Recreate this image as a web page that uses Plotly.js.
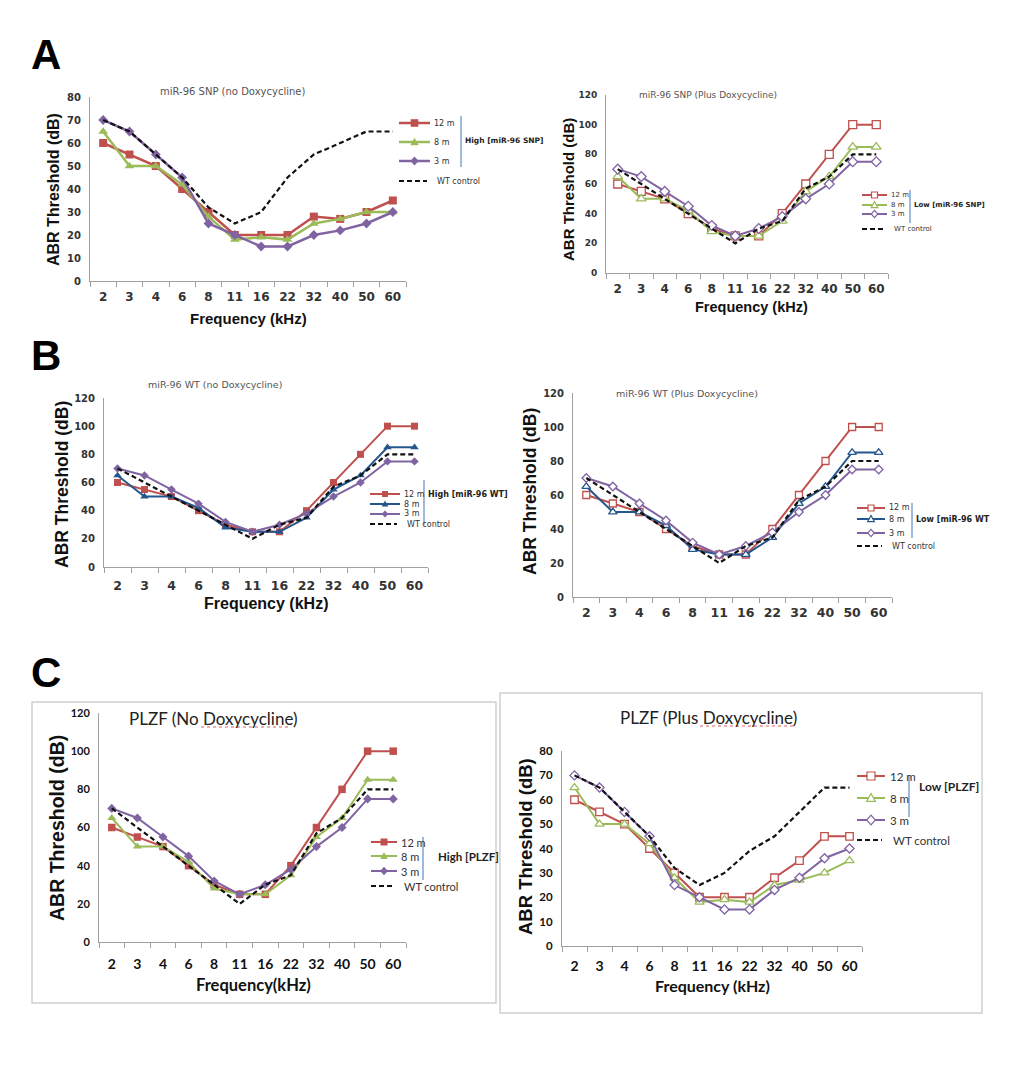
<!DOCTYPE html>
<html><head><meta charset="utf-8">
<script src="https://cdn.plot.ly/plotly-3.0.1.min.js"></script>
<style>html,body{margin:0;padding:0;background:#fff}#chart{width:1024px;height:1080px}</style>
</head><body><div id="chart"></div>
<script>
// ---------- DATA ----------
const freqs = ['2','3','4','6','8','11','16','22','32','40','50','60'];
const seriesNames = ['12 m','8 m','3 m','WT control'];

// A left: miR-96 SNP (no Doxycycline)
const snpNoDox12m = [60,55,50,40,30,20,20,20,28,27,30,35];
const snpNoDox8m  = [65,50,50,42,28,18,19,18,25,27,30,30];
const snpNoDox3m  = [70,65,55,45,25,20,15,15,20,22,25,30];
const snpNoDoxWT  = [70,65,55,45,32,25,30,45,55,60,65,65];

// A right: miR-96 SNP (Plus Doxycycline)
const snpDox12m = [60,55,50,40,30,25,25,40,60,80,100,100];
const snpDox8m  = [65,50,50,42,28,25,25,35,55,65,85,85];
const snpDox3m  = [70,65,55,45,32,25,30,38,50,60,75,75];
const snpDoxWT  = [70,60,50,40,30,20,30,35,57,65,80,80];

// B left: miR-96 WT (no Doxycycline)
const wtNoDox12m = [60,55,50,40,30,25,25,40,60,80,100,100];
const wtNoDox8m  = [65,50,50,42,28,25,25,35,55,65,85,85];
const wtNoDox3m  = [70,65,55,45,32,25,30,38,50,60,75,75];
const wtNoDoxWT  = [70,60,50,40,30,20,30,35,57,65,80,80];

// B right: miR-96 WT (Plus Doxycycline)
const wtDox12m = [60,55,50,40,30,25,25,40,60,80,100,100];
const wtDox8m  = [65,50,50,42,28,25,25,35,55,65,85,85];
const wtDox3m  = [70,65,55,45,32,25,30,38,50,60,75,75];
const wtDoxWT  = [70,60,50,40,30,20,30,35,57,65,80,80];

// C left: PLZF (No Doxycycline)
const plzfNoDox12m = [60,55,50,40,30,25,25,40,60,80,100,100];
const plzfNoDox8m  = [65,50,50,42,28,25,25,35,55,65,85,85];
const plzfNoDox3m  = [70,65,55,45,32,25,30,38,50,60,75,75];
const plzfNoDoxWT  = [70,60,50,40,30,20,30,35,57,65,80,80];

// C right: PLZF (Plus Doxycycline)
const plzfDox12m = [60,55,50,40,30,20,20,20,28,35,45,45];
const plzfDox8m  = [65,50,50,42,28,18,19,18,25,27,30,35];
const plzfDox3m  = [70,65,55,45,25,20,15,15,23,28,36,40];
const plzfDoxWT  = [70,65,55,45,32,25,30,39,45,55,65,65];

const titles = ['miR-96 SNP (no Doxycycline)','miR-96 SNP (Plus Doxycycline)',
  'miR-96 WT (no Doxycycline)','miR-96 WT (Plus Doxycycline)',
  'PLZF (No Doxycycline)','PLZF (Plus Doxycycline)'];
const groupLabels = ['High [miR-96 SNP]','Low [miR-96 SNP]','High [miR-96 WT]','Low [miR-96 WT','High [PLZF]','Low [PLZF]'];
const panelLetters = ['A','B','C'];

// ---------- STYLE ----------
const RED='#C0504D', GREEN='#9BBB59', PURPLE='#8064A2', BLUE='#24578E', GRAY='#A0A0A0';
const W=1024, H=1080;
const px = v => v/W, py = v => 1 - v/H;
const AR = 'Liberation Sans, Arial, sans-serif';
const DJ = 'DejaVu Sans, Verdana, sans-serif';
const LA = 'Lato, Calibri, sans-serif';

const panels = [
 {data:[snpNoDox12m,snpNoDox8m,snpNoDox3m,snpNoDoxWT], open:false, c8:GREEN,
  box:[90,406,97,281], ymax:80, dtick:10, lw:2.5, ms:8,
  xtf:{family:DJ,size:12,weight:'bold',color:'#333'}, ytf:{family:DJ,size:10,weight:'bold',color:'#333'}, xstand:5,
  title:{x:232,y:91,size:10,family:DJ},
  yt:{x:53,y:190,size:16,family:AR}, xt:{x:248,y:318,size:15,family:AR,text:'Frequency (kHz)'},
  leg:{x0:399,x1:430,ys:[123,142,161,181],tx:432,size:8,family:DJ,ms:3.8},
  bar:{x:461,y0:116,y1:167,tx:463,ty:140,size:7.5,family:DJ}},
 {data:[snpDox12m,snpDox8m,snpDox3m,snpDoxWT], open:true, c8:GREEN,
  box:[606,888,95,273], ymax:120, dtick:20, lw:2, ms:8,
  xtf:{family:DJ,size:12,weight:'bold',color:'#333'}, ytf:{family:DJ,size:9,weight:'bold',color:'#333'}, xstand:5,
  title:{x:708,y:95,size:9,family:DJ},
  yt:{x:568,y:190,size:15,family:AR}, xt:{x:751,y:307,size:14.5,family:AR,text:'Frequency (kHz)'},
  leg:{x0:862,x1:887,ys:[195,205,214,229],tx:889,size:7,family:DJ,ms:3},
  bar:{x:910,y0:190,y1:223,tx:912,ty:205,size:7,family:DJ}},
 {data:[wtNoDox12m,wtNoDox8m,wtNoDox3m,wtNoDoxWT], open:false, c8:BLUE,
  box:[104,428,398,567], ymax:120, dtick:20, lw:2, ms:7,
  xtf:{family:DJ,size:12.5,weight:'bold',color:'#333'}, ytf:{family:DJ,size:10,weight:'bold',color:'#333'}, xstand:7,
  title:{x:215,y:385,size:9.5,family:DJ},
  yt:{x:62,y:485,size:17.5,family:AR}, xt:{x:266,y:603,size:16,family:AR,text:'Frequency (kHz)'},
  leg:{x0:370,x1:400,ys:[494,504,514,524],tx:402,size:8,family:DJ,ms:3},
  bar:{x:424,y0:480,y1:525,tx:426,ty:495,size:8,family:DJ}},
 {data:[wtDox12m,wtDox8m,wtDox3m,wtDoxWT], open:true, c8:BLUE,
  box:[573,892,393,597], ymax:120, dtick:20, lw:2, ms:7,
  xtf:{family:DJ,size:12.5,weight:'bold',color:'#333'}, ytf:{family:DJ,size:10,weight:'bold',color:'#333'}, xstand:4,
  title:{x:687,y:393,size:9.5,family:DJ},
  yt:{x:530,y:492,size:17.5,family:AR}, xt:null,
  leg:{x0:857,x1:885,ys:[508,519,533,546],tx:887,size:8,family:DJ,ms:3},
  bar:{x:912,y0:503,y1:538,tx:914,ty:519,size:8,family:DJ}},
 {data:[plzfNoDox12m,plzfNoDox8m,plzfNoDox3m,plzfNoDoxWT], open:false, c8:GREEN,
  box:[99,406,713,942], ymax:120, dtick:20, lw:2, ms:7.5,
  xtf:{family:LA,size:14,weight:'bold',color:'#111'}, ytf:{family:LA,size:11,weight:'bold',color:'#111'}, xstand:9,
  title:{x:213,y:718,size:17,family:LA,sq:[201,291,727]},
  yt:{x:57,y:828,size:19.5,family:AR}, xt:{x:253,y:985,size:16.5,family:LA,text:'Frequency(kHz)'},
  leg:{x0:371,x1:397,ys:[842,856,871,886],tx:399,size:11,family:LA,ms:3.5},
  bar:{x:423,y0:837,y1:880,tx:436,ty:856,size:11.5,family:LA}},
 {data:[plzfDox12m,plzfDox8m,plzfDox3m,plzfDoxWT], open:true, c8:GREEN,
  box:[562,862,751,946], ymax:80, dtick:10, lw:2, ms:7.5,
  xtf:{family:LA,size:14,weight:'bold',color:'#111'}, ytf:{family:LA,size:11.5,weight:'bold',color:'#111'}, xstand:7,
  title:{x:708,y:717,size:17,family:LA,sq:[700,795,726]},
  yt:{x:525,y:847,size:18.5,family:AR}, xt:{x:712,y:985,size:16,family:LA,text:'Frequency (kHz)'},
  leg:{x0:857,x1:885,ys:[776,798,820,840],tx:888,size:11.5,family:LA,ms:4},
  bar:{x:909,y0:775,y1:817,tx:917,ty:786,size:12,family:LA}},
];

const symbols = ['square','triangle-up','diamond'];
const traces=[], shapes=[], annotations=[];
const layout = {width:W, height:H, margin:{l:0,r:0,t:0,b:0}, paper_bgcolor:'#fff', plot_bgcolor:'rgba(0,0,0,0)', showlegend:false, shapes, annotations};

function markerPath(kind, s){
  if(kind===0) return `M${-s},${-s}H${s}V${s}H${-s}Z`;
  if(kind===1) return `M${-s*1.1},${-s*0.85}L${s*1.1},${-s*0.85}L0,${s*1.15}Z`;
  return `M0,${s*1.2}L${s*1.1},0L0,${-s*1.2}L${-s*1.1},0Z`;
}

panels.forEach((p,i)=>{
  const n=i+1, xa='x'+(n===1?'':n), ya='y'+(n===1?'':n);
  const colors=[RED,p.c8,PURPLE];
  const sizes=[p.ms, p.ms+0.5, p.ms-0.5];
  for(let k=0;k<3;k++){
    traces.push({x:freqs, y:p.data[k], xaxis:xa, yaxis:ya, type:'scatter', mode:'lines+markers', name:seriesNames[k],
      line:{color:colors[k], width:p.lw},
      marker:{symbol:symbols[k], size:sizes[k], color:p.open?'#fff':colors[k], line:{color:colors[k], width:p.open?1.3:0}}});
  }
  traces.push({x:freqs, y:p.data[3], xaxis:xa, yaxis:ya, type:'scatter', mode:'lines', name:seriesNames[3],
    line:{color:'#111', width:2.2, dash:'5px,3px'}});
  const [x0,x1,y0,y1]=p.box;
  layout['xaxis'+(n===1?'':n)] = {domain:[px(x0),px(x1)], anchor:ya, type:'category', range:[-0.5,11.5],
    showline:true, linecolor:GRAY, linewidth:1, ticks:'outside', tickson:'boundaries', ticklen:5, tickcolor:GRAY,
    showgrid:false, zeroline:false, tickfont:p.xtf, tickangle:0, ticklabelstandoff:p.xstand, fixedrange:true};
  layout['yaxis'+(n===1?'':n)] = {domain:[py(y1),py(y0)], anchor:xa, range:[0,p.ymax], dtick:p.dtick,
    showline:true, linecolor:GRAY, linewidth:1, ticks:'', showgrid:false, zeroline:false,
    tickfont:p.ytf, ticklabelstandoff:6, fixedrange:true};
  // title
  annotations.push({xref:'paper',yref:'paper',x:px(p.title.x),y:py(p.title.y),text:titles[i],showarrow:false,
    xanchor:'center',yanchor:'middle',font:{family:p.title.family,size:p.title.size,color:i>=4?'#222':'#555'}});
  if(p.title.sq){
    shapes.push({type:'line',xref:'paper',yref:'paper',x0:px(p.title.sq[0]),x1:px(p.title.sq[1]),y0:py(p.title.sq[2]),y1:py(p.title.sq[2]),
      line:{color:'#E06060',width:1,dash:'dot'}});
  }
  // axis titles
  annotations.push({xref:'paper',yref:'paper',x:px(p.yt.x),y:py(p.yt.y),text:'ABR Threshold (dB)',textangle:-90,showarrow:false,
    xanchor:'center',yanchor:'middle',font:{family:p.yt.family,size:p.yt.size,weight:'bold',color:'#111'}});
  if(p.xt){
    annotations.push({xref:'paper',yref:'paper',x:px(p.xt.x),y:py(p.xt.y),text:p.xt.text,showarrow:false,
      xanchor:'center',yanchor:'middle',font:{family:p.xt.family,size:p.xt.size,weight:'bold',color:'#111'}});
  }
  // legend
  const L=p.leg;
  for(let k=0;k<4;k++){
    const yy=py(L.ys[k]);
    const isWT=k===3;
    const xEnd = isWT ? L.x1-3 : L.x1;
    shapes.push({type:'line',xref:'paper',yref:'paper',x0:px(L.x0),x1:px(xEnd),y0:yy,y1:yy,
      line:{color:isWT?'#111':colors[k],width:isWT?2.2:p.lw, dash:isWT?'5px,3px':'solid'}});
    if(!isWT){
      shapes.push({type:'path',xref:'paper',yref:'paper',xsizemode:'pixel',ysizemode:'pixel',
        xanchor:px((L.x0+L.x1)/2),yanchor:yy,path:markerPath(k,L.ms),
        fillcolor:p.open?'#fff':colors[k],line:{color:colors[k],width:p.open?1.2:0}});
    }
    annotations.push({xref:'paper',yref:'paper',x:px(L.tx+(isWT?3:0)),y:yy,text:seriesNames[k],showarrow:false,
      xanchor:'left',yanchor:'middle',font:{family:L.family,size:L.size,color:'#333'}});
  }
  const B=p.bar;
  shapes.push({type:'line',xref:'paper',yref:'paper',x0:px(B.x),x1:px(B.x),y0:py(B.y0),y1:py(B.y1),line:{color:'#7FA3D0',width:1.5}});
  annotations.push({xref:'paper',yref:'paper',x:px(B.tx),y:py(B.ty),text:groupLabels[i],showarrow:false,
    xanchor:'left',yanchor:'middle',font:{family:B.family,size:B.size,weight:'bold',color:'#222'}});
});

// boxes for panel C
shapes.push({type:'rect',xref:'paper',yref:'paper',x0:px(32),x1:px(496),y0:py(1003),y1:py(702),line:{color:'#CFCFCF',width:1.5},layer:'below'});
shapes.push({type:'rect',xref:'paper',yref:'paper',x0:px(500),x1:px(982),y0:py(1013),y1:py(693),line:{color:'#CFCFCF',width:1.5},layer:'below'});

// panel letters
[[46,54],[46,355],[46,672]].forEach((c,j)=>{
  annotations.push({xref:'paper',yref:'paper',x:px(c[0]),y:py(c[1]),text:panelLetters[j],showarrow:false,
    xanchor:'center',yanchor:'middle',font:{family:AR,size:42,weight:'bold',color:'#000'}});
});

Plotly.newPlot('chart', traces, layout, {staticPlot:true, displayModeBar:false});
</script></body></html>
